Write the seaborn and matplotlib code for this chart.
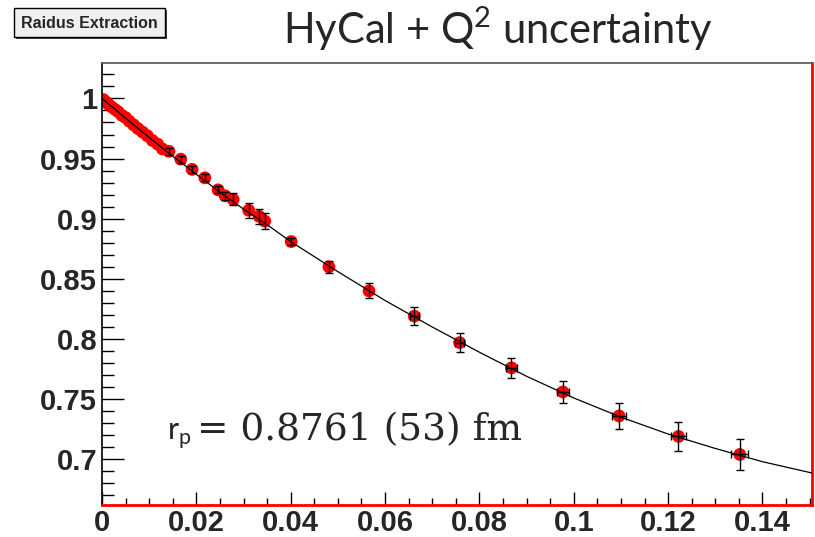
import matplotlib
matplotlib.use("Agg")
import matplotlib.pyplot as plt
import seaborn as sns
import pandas as pd
from matplotlib.patches import Rectangle
from matplotlib.ticker import FixedLocator, MultipleLocator
from matplotlib import font_manager

# ---------------- data ----------------
q2 = [0.0003, 0.0008, 0.0014, 0.0020, 0.0027, 0.0034, 0.0042, 0.0050, 0.0058,
      0.0067, 0.0076, 0.0086, 0.0096, 0.0107, 0.0118, 0.0128,
      0.0142, 0.0167, 0.0191, 0.0218, 0.0246, 0.0261, 0.0278, 0.0311, 0.0333, 0.0345,
      0.0401, 0.0481, 0.0566, 0.0662, 0.0758, 0.0868, 0.0977, 0.1096, 0.1222, 0.1352]
ge = [0.999, 0.997, 0.995, 0.993, 0.991, 0.989, 0.986, 0.984, 0.981,
      0.978, 0.975, 0.972, 0.969, 0.965, 0.962, 0.958,
      0.956, 0.9495, 0.941, 0.934, 0.924, 0.919, 0.916, 0.907, 0.902, 0.898,
      0.881, 0.860, 0.840, 0.819, 0.797, 0.776, 0.756, 0.736, 0.719, 0.704]
ge_err = [0.0] * 16 + [0.003, 0.003, 0.003, 0.003, 0.003, 0.0035, 0.005, 0.006, 0.006, 0.0065,
                       0.003, 0.0048, 0.0062, 0.0076, 0.0080, 0.0086, 0.0093, 0.0105, 0.0118, 0.0125]
q2_err = [0.0] * 26 + [0.0, 0.0, 0.0, 0.0009, 0.0010, 0.0011, 0.0013,
                       0.0014, 0.0016, 0.0018]

fit_q2 = [0.0, 0.005, 0.01, 0.015, 0.02, 0.025, 0.03, 0.035, 0.04, 0.05, 0.06, 0.07,
          0.08, 0.09, 0.10, 0.11, 0.12, 0.13, 0.14, 0.1505]
fit_ge = [1.000, 0.9836, 0.9675, 0.952, 0.937, 0.922, 0.908, 0.895, 0.881, 0.856, 0.832,
          0.810, 0.789, 0.769, 0.751, 0.735, 0.721, 0.709, 0.698, 0.6886]

x_ticks = [0, 0.02, 0.04, 0.06, 0.08, 0.10, 0.12, 0.14]
x_tick_labels = ["0", "0.02", "0.04", "0.06", "0.08", "0.1", "0.12", "0.14"]
y_ticks = [0.70, 0.75, 0.80, 0.85, 0.90, 0.95, 1.00]
y_tick_labels = ["0.7", "0.75", "0.8", "0.85", "0.9", "0.95", "1"]

title_text = r"HyCal + Q$^{\mathregular{2}}$ uncertainty"
button_text = "Raidus Extraction"
rp_symbol = r"r$_{\mathregular{p}}$"
rp_value = "= 0.8761 (53) fm"

# ---------------- style ----------------
sns.set_style("white")
plt.rcParams["font.family"] = ["Liberation Sans", "DejaVu Sans"]

installed = {f.name for f in font_manager.fontManager.ttflist}
narrow = "Liberation Sans Narrow" if "Liberation Sans Narrow" in installed else "Liberation Sans"

W, H = 815, 537
fig = plt.figure(figsize=(W / 100, H / 100), dpi=100)
ax = fig.add_axes([102 / W, 1 - 505 / H, 710 / W, (505 - 62.7) / H])

pts = pd.DataFrame({"q2": q2, "ge": ge, "dy": ge_err, "dx": q2_err})
fit = pd.DataFrame({"q2": fit_q2, "ge": fit_ge})

sns.scatterplot(data=pts, x="q2", y="ge", ax=ax, color="#ff0000", s=85,
                edgecolor="none", linewidth=0, zorder=2, legend=False)
ey = pts[pts["dy"] > 0]
ax.errorbar(ey["q2"], ey["ge"], yerr=ey["dy"], fmt="none", ecolor="black",
            elinewidth=1.0, capsize=3, capthick=1.0, zorder=3)
ex = pts[pts["dx"] > 0]
ax.errorbar(ex["q2"], ex["ge"], xerr=ex["dx"], fmt="none", ecolor="black",
            elinewidth=1.0, capsize=3, capthick=1.0, zorder=3)
sns.lineplot(data=fit, x="q2", y="ge", ax=ax, color="black", linewidth=0.9,
             zorder=4, legend=False)

ax.set_xlim(0, 0.1505)
ax.set_ylim(0.662, 1.0297)
ax.set_xlabel("")
ax.set_ylabel("")

ax.xaxis.set_major_locator(FixedLocator(x_ticks))
ax.set_xticklabels(x_tick_labels)
ax.yaxis.set_major_locator(FixedLocator(y_ticks))
ax.set_yticklabels(y_tick_labels)
ax.xaxis.set_minor_locator(MultipleLocator(0.005))
ax.yaxis.set_minor_locator(MultipleLocator(0.01))

ax.tick_params(axis="x", which="major", direction="in", length=9.5, width=1.0,
               color="black", pad=3, labelsize=21, bottom=True, top=False)
ax.tick_params(axis="x", which="minor", direction="in", length=5, width=1.0,
               color="black", bottom=True, top=False)
ax.tick_params(axis="y", which="major", direction="in", length=16, width=1.0,
               color="black", pad=3.5, labelsize=21, left=True, right=False)
ax.tick_params(axis="y", which="minor", direction="in", length=8.5, width=1.0,
               color="black", left=True, right=False)
for lab in ax.get_xticklabels() + ax.get_yticklabels():
    lab.set_fontweight("bold")

ax.spines["left"].set_color("black")
ax.spines["left"].set_linewidth(1.2)
ax.spines["top"].set_color("#555555")
ax.spines["top"].set_linewidth(1.2)
ax.spines["bottom"].set_color("#ff0000")
ax.spines["bottom"].set_linewidth(2.0)
ax.spines["right"].set_color("#ff0000")
ax.spines["right"].set_linewidth(2.0)

# ---------------- annotation r_p ----------------
fig.text(167 / W, 1 - 440 / H, rp_symbol, fontsize=22, family=["Lato", "DejaVu Sans"],
         va="baseline", ha="left")
fig.text(197 / W, 1 - 440 / H, rp_value, fontsize=27, family=["DejaVu Serif"],
         va="baseline", ha="left")

# ---------------- title and button ----------------
fig.text(283 / W, 1 - 44 / H, title_text, fontsize=30, family=["Lato", "DejaVu Sans"],
         va="baseline", ha="left")

bx0, by0, bw, bh = 14, 8, 151, 29  # pixels from top-left
fig.patches.append(Rectangle(((bx0 + 2) / W, 1 - (by0 + bh + 2) / H), bw / W, bh / H,
                             transform=fig.transFigure, facecolor="#444444",
                             edgecolor="none", zorder=1))
fig.patches.append(Rectangle((bx0 / W, 1 - (by0 + bh) / H), bw / W, bh / H,
                             transform=fig.transFigure, facecolor="#efefef",
                             edgecolor="black", linewidth=1.0, zorder=2))
fig.text((bx0 + bw / 2) / W, 1 - (by0 + bh / 2 + 1) / H, button_text, fontsize=11.5,
         fontweight="bold", family=[narrow, "DejaVu Sans"], ha="center", va="center", zorder=3)

fig.savefig("out.png", dpi=100, facecolor="white")
